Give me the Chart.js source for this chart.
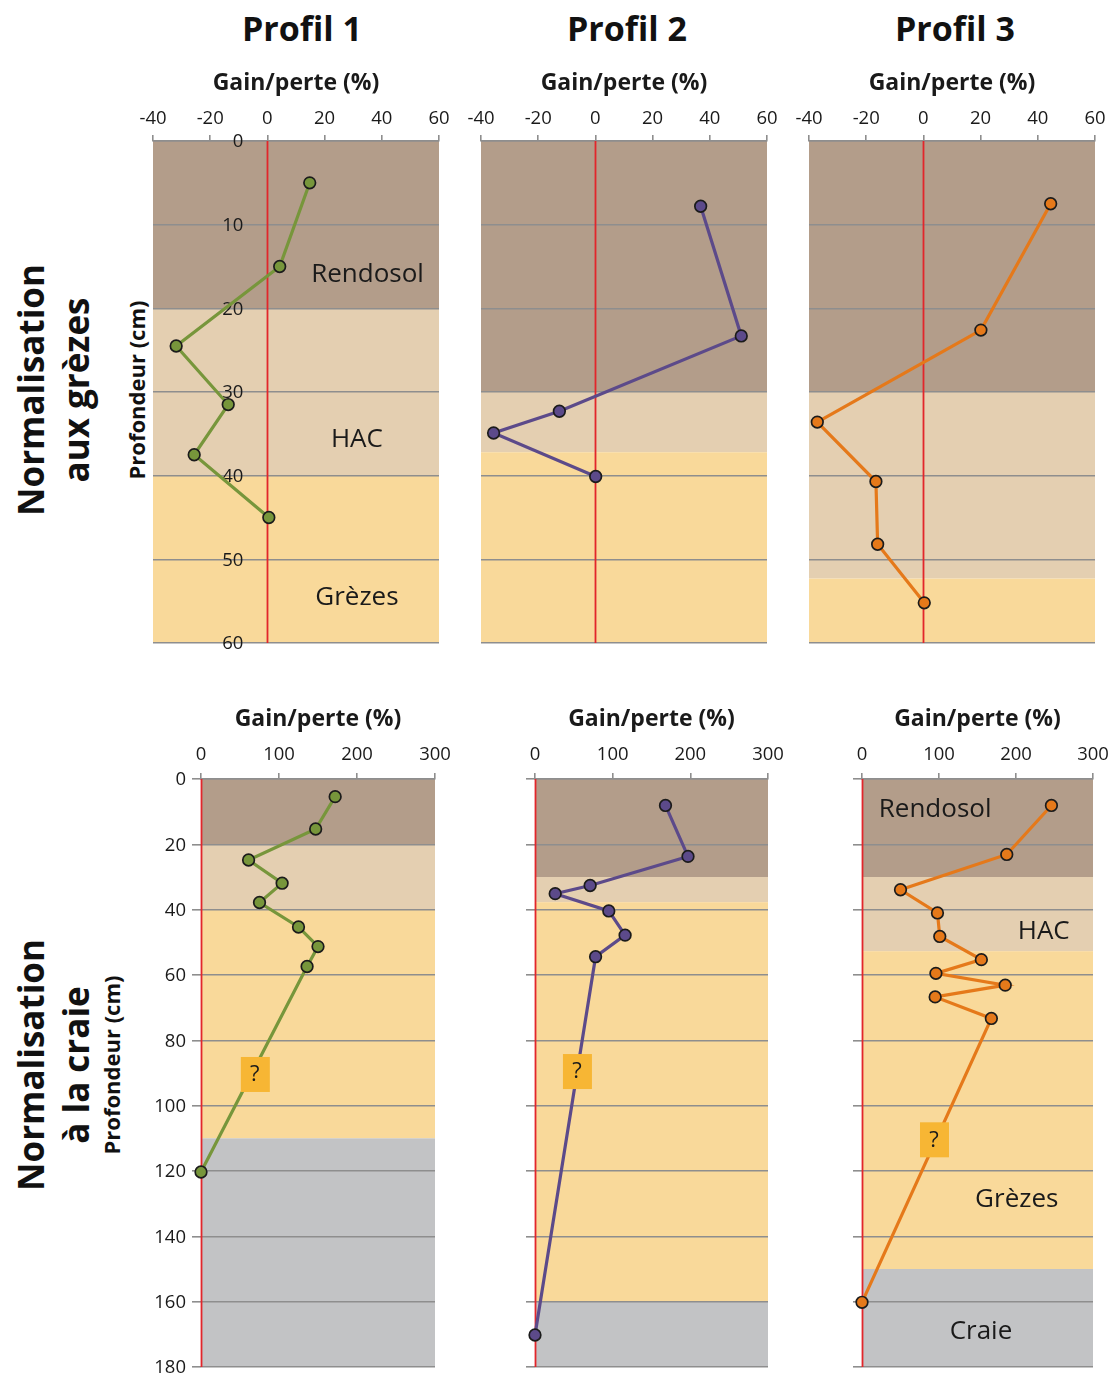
<!DOCTYPE html>
<html lang="fr">
<head>
<meta charset="utf-8">
<script src="https://cdn.jsdelivr.net/npm/chart.js@4.4.1/dist/chart.umd.min.js"></script>
<style>
  html, body { margin: 0; padding: 0; background: #fff; overflow: hidden; }
  body { width: 1111px; height: 1376px; position: relative; font-family: "Open Sans", sans-serif; color: #111; }
  .panel { position: absolute; }
  .title { position: absolute; font-weight: 700; font-size: 34px; transform: translate(-50%, -50%); white-space: nowrap; }
  .vtitle { position: absolute; font-weight: 700; transform: translate(-50%, -50%) rotate(-90deg); white-space: nowrap; }
</style>
</head>
<body>
<div class="title" style="left:302px;top:28px">Profil 1</div>
<div class="title" style="left:627px;top:28px">Profil 2</div>
<div class="title" style="left:955px;top:28px">Profil 3</div>

<div class="vtitle" style="left:30px;top:390px;font-size:35px">Normalisation</div>
<div class="vtitle" style="left:75px;top:390px;font-size:35px">aux grèzes</div>
<div class="vtitle" style="left:136px;top:390px;font-size:22px">Profondeur (cm)</div>

<div class="vtitle" style="left:30px;top:1065px;font-size:35px">Normalisation</div>
<div class="vtitle" style="left:75px;top:1065px;font-size:35px">à la craie</div>
<div class="vtitle" style="left:111px;top:1065px;font-size:22px">Profondeur (cm)</div>

<div class="panel" id="g1" style="left:128px;top:50px;width:336px;height:605px"><canvas></canvas></div>
<div class="panel" id="g2" style="left:456px;top:50px;width:336px;height:605px"><canvas></canvas></div>
<div class="panel" id="g3" style="left:784px;top:50px;width:327px;height:605px"><canvas></canvas></div>
<div class="panel" id="c1" style="left:141px;top:690px;width:319px;height:687px"><canvas></canvas></div>
<div class="panel" id="c2" style="left:521px;top:690px;width:272px;height:687px"><canvas></canvas></div>
<div class="panel" id="c3" style="left:848px;top:690px;width:263px;height:687px"><canvas></canvas></div>

<script>
// horizons, top to bottom
const horizonNames = ['Rendosol', 'HAC', 'Grèzes', 'Craie'];

// normalisation aux grèzes: gain/perte (%) vs profondeur (cm)
const p1GrezesDepth = [5, 15, 24.5, 31.5, 37.5, 45];
const p1GrezesGain = [14.8, 4.3, -31.9, -13.7, -25.6, 0.5];
const p2GrezesDepth = [7.8, 23.3, 32.3, 34.9, 40.1];
const p2GrezesGain = [36.8, 51, -12.6, -35.6, 0.1];
const p3GrezesDepth = [7.5, 22.6, 33.6, 40.7, 48.2, 55.2];
const p3GrezesGain = [44.5, 20.1, -37.1, -16.6, -16, 0.3];

// normalisation à la craie
const p1CraieDepth = [5.4, 15.3, 24.8, 31.9, 37.8, 45.3, 51.3, 57.4, 120.3];
const p1CraieGain = [172, 147, 61, 104, 75, 125, 150, 136, 0];
const p2CraieDepth = [8.1, 23.7, 32.6, 35.1, 40.4, 47.8, 54.4, 170.2];
const p2CraieGain = [168, 197, 71, 26, 95, 116, 78, 0];
const p3CraieDepth = [8.1, 23.1, 33.9, 41, 48.2, 55.3, 59.5, 63.1, 66.7, 73.3, 160.2];
const p3CraieGain = [246, 188, 50, 98, 101, 155, 96, 186, 95, 168, 0];

// horizon limits (cm)
const p1GrezesBounds = [0, 20, 40, 60];
const p2GrezesBounds = [0, 30, 37.2, 60];
const p3GrezesBounds = [0, 30, 52.3, 60];
const p1CraieBounds = [0, 20, 40, 110, 180];
const p2CraieBounds = [0, 30, 37.7, 160, 180];
const p3CraieBounds = [0, 30, 52.7, 150, 180];

// tick labels
const gainTicksGrezes = [-40, -20, 0, 20, 40, 60];
const depthTicksGrezes = [0, 10, 20, 30, 40, 50, 60];
const gainTicksCraie = [0, 100, 200, 300];
const depthTicksCraie = [0, 20, 40, 60, 80, 100, 120, 140, 160, 180];

const horizonColors = { 'Rendosol': '#b39d8a', 'HAC': '#e4cfb1', 'Grèzes': '#f9d99a', 'Craie': '#c2c3c5' };
const profilColors = ['#77963b', '#5c4a8a', '#e5791a'];
const gridColor = '#8e8e8e';
const textColor = '#1a1a1a';
const font = '"Open Sans", sans-serif';

const soilPlugin = {
  id: 'soil',
  beforeDraw(chart, args, opts) {
    const { ctx, chartArea: a, scales: { y } } = chart;
    ctx.save();
    for (let i = 0; i < opts.bounds.length - 1; i++) {
      const top = y.getPixelForValue(opts.bounds[i]);
      const bot = y.getPixelForValue(opts.bounds[i + 1]);
      ctx.fillStyle = horizonColors[horizonNames[i]];
      ctx.fillRect(a.left, top, a.right - a.left, bot - top);
    }
    ctx.restore();
  },
  beforeDatasetsDraw(chart, args, opts) {
    const { ctx, chartArea: a, scales: { x, y } } = chart;
    ctx.save();
    // horizon names
    ctx.fillStyle = textColor;
    ctx.font = '26px ' + font;
    ctx.textAlign = 'center';
    ctx.textBaseline = 'middle';
    (opts.names || []).forEach(n => {
      ctx.fillText(n.text, x.getPixelForValue(n.gain), y.getPixelForValue(n.depth));
    });
    // depth labels left of the zero line
    if (opts.depthLabels) {
      ctx.font = '18.5px ' + font;
      ctx.textAlign = 'right';
      const x0 = x.getPixelForValue(0);
      opts.depthLabels.forEach(v => ctx.fillText(String(v), x0 - opts.labelGap, y.getPixelForValue(v) + 1));
    }
    // zero line
    const x0 = Math.round(x.getPixelForValue(0)) + 0.5;
    ctx.strokeStyle = '#e2262b';
    ctx.lineWidth = 1.8;
    ctx.beginPath();
    ctx.moveTo(x0, a.top);
    ctx.lineTo(x0, a.bottom);
    ctx.stroke();
    ctx.restore();
  },
  afterDatasetsDraw(chart, args, opts) {
    if (!opts.question) return;
    const { ctx, scales: { x, y } } = chart;
    const cx = x.getPixelForValue(opts.question.gain);
    const cy = y.getPixelForValue(opts.question.depth);
    ctx.save();
    ctx.fillStyle = '#f7b634';
    ctx.fillRect(cx - 14, cy - 17, 29, 35);
    ctx.fillStyle = textColor;
    ctx.font = '22px ' + font;
    ctx.textAlign = 'center';
    ctx.textBaseline = 'middle';
    ctx.fillText('?', cx, cy + 1);
    ctx.restore();
  }
};

function makePanel(id, cfg) {
  const canvas = document.querySelector('#' + id + ' canvas');
  const points = cfg.gain.map((g, i) => ({ x: g, y: cfg.depth[i] }));
  const gainTicks = cfg.gainTicks;
  const depthTicks = cfg.depthTicks;
  new Chart(canvas, {
    type: 'scatter',
    data: {
      datasets: [{
        data: points,
        showLine: true,
        borderColor: cfg.color,
        borderWidth: 3.2,
        pointBackgroundColor: cfg.color,
        pointBorderColor: '#1b1b1b',
        pointBorderWidth: 1.7,
        pointRadius: 5.8,
        clip: false
      }]
    },
    options: {
      responsive: true,
      maintainAspectRatio: false,
      animation: false,
      events: [],
      layout: { padding: cfg.padding },
      plugins: {
        legend: { display: false },
        tooltip: { enabled: false },
        soil: cfg.soil
      },
      scales: {
        x: {
          type: 'linear',
          position: 'top',
          min: gainTicks[0],
          max: gainTicks[gainTicks.length - 1],
          ticks: { stepSize: gainTicks[1] - gainTicks[0], color: textColor, font: { family: font, size: 18.5 }, padding: cfg.xTickPad, maxRotation: 0 },
          grid: { drawOnChartArea: false, drawTicks: true, tickLength: 6, color: gridColor, lineWidth: 1.6 },
          border: { display: true, color: gridColor, width: 1.6 },
          title: { display: true, text: 'Gain/perte (%)', color: textColor, font: { family: font, size: 23, weight: 'bold' }, padding: { top: cfg.titlePad, bottom: 0 } },
          afterFit: s => {
            s.height = cfg.xHeight;
            // let the end labels hang into the padding
            s.paddingLeft = 0;
            s.paddingRight = 0;
          }
        },
        y: {
          type: 'linear',
          position: 'left',
          reverse: true,
          min: depthTicks[0],
          max: depthTicks[depthTicks.length - 1],
          ticks: { display: false, stepSize: depthTicks[1] - depthTicks[0] },
          grid: { color: gridColor, lineWidth: 1.6, drawTicks: cfg.yTicks, tickLength: 9 },
          border: { display: false },
          afterFit: s => { s.width = cfg.yWidth; }
        }
      }
    },
    plugins: [soilPlugin]
  });
}

const grezesBase = { gainTicks: gainTicksGrezes, depthTicks: depthTicksGrezes, xHeight: 91, xTickPad: 5, titlePad: 20, yTicks: false, yWidth: 0 };
const craieBase = { gainTicks: gainTicksCraie, depthTicks: depthTicksCraie, xHeight: 89, xTickPad: 7, titlePad: 16, yTicks: true, yWidth: 14 };

makePanel('g1', Object.assign({}, grezesBase, {
  gain: p1GrezesGain, depth: p1GrezesDepth, color: profilColors[0],
  padding: { left: 25, right: 25, top: 0, bottom: 12 },
  soil: {
    bounds: p1GrezesBounds,
    depthLabels: depthTicksGrezes,
    labelGap: 24,
    names: [
      { text: horizonNames[0], gain: 35, depth: 16 },
      { text: horizonNames[1], gain: 31.3, depth: 35.7 },
      { text: horizonNames[2], gain: 31.3, depth: 54.6 }
    ]
  }
}));
makePanel('g2', Object.assign({}, grezesBase, {
  gain: p2GrezesGain, depth: p2GrezesDepth, color: profilColors[1],
  padding: { left: 25, right: 25, top: 0, bottom: 12 },
  soil: { bounds: p2GrezesBounds }
}));
makePanel('g3', Object.assign({}, grezesBase, {
  gain: p3GrezesGain, depth: p3GrezesDepth, color: profilColors[2],
  padding: { left: 25, right: 16, top: 0, bottom: 12 },
  soil: { bounds: p3GrezesBounds }
}));

makePanel('c1', Object.assign({}, craieBase, {
  gain: p1CraieGain, depth: p1CraieDepth, color: profilColors[0],
  yWidth: 60,
  padding: { left: 0, right: 25, top: 0, bottom: 10 },
  soil: { bounds: p1CraieBounds, depthLabels: depthTicksCraie, labelGap: 15, question: { gain: 69, depth: 90.3 } }
}));
makePanel('c2', Object.assign({}, craieBase, {
  gain: p2CraieGain, depth: p2CraieDepth, color: profilColors[1],
  padding: { left: 0, right: 25, top: 0, bottom: 10 },
  soil: { bounds: p2CraieBounds, question: { gain: 54, depth: 89.4 } }
}));
makePanel('c3', Object.assign({}, craieBase, {
  gain: p3CraieGain, depth: p3CraieDepth, color: profilColors[2],
  padding: { left: 0, right: 18, top: 0, bottom: 10 },
  soil: {
    bounds: p3CraieBounds,
    question: { gain: 93.5, depth: 110.3 },
    names: [
      { text: horizonNames[0], gain: 95, depth: 9.5 },
      { text: horizonNames[1], gain: 236, depth: 46.7 },
      { text: horizonNames[2], gain: 201, depth: 128.7 },
      { text: horizonNames[3], gain: 154.5, depth: 169.2 }
    ]
  }
}));
</script>
</body>
</html>
